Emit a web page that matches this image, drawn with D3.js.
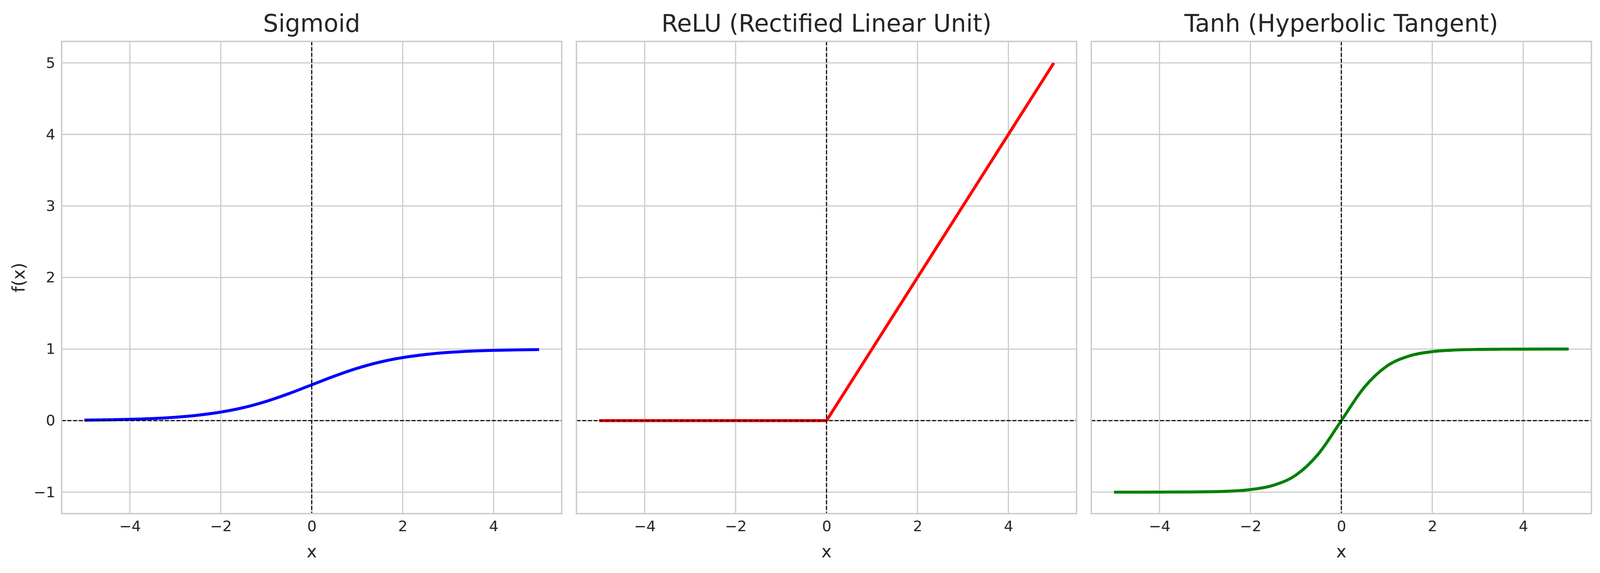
<!DOCTYPE html>
<html>
<head>
<meta charset="utf-8">
<script src="https://cdn.jsdelivr.net/npm/d3@7"></script>
<style>
  html, body { margin: 0; padding: 0; background: #fff; overflow: hidden; }
  svg { display: block; font-family: "DejaVu Sans", sans-serif; }
</style>
</head>
<body>
<script>
// x positions sampled along each curve
var xValues = [-5, -4.5, -4, -3.5, -3, -2.5, -2, -1.5, -1, -0.5, 0,
               0.5, 1, 1.5, 2, 2.5, 3, 3.5, 4, 4.5, 5];

// values
var sigmoidValues = [0.007, 0.011, 0.018, 0.029, 0.047, 0.076, 0.119, 0.182, 0.269, 0.378, 0.5,
                     0.622, 0.731, 0.818, 0.881, 0.924, 0.953, 0.971, 0.982, 0.989, 0.993];
var reluValues = [0, 0, 0, 0, 0, 0, 0, 0, 0, 0, 0,
                  0.5, 1, 1.5, 2, 2.5, 3, 3.5, 4, 4.5, 5];
var tanhValues = [-1.0, -1.0, -0.999, -0.998, -0.995, -0.987, -0.964, -0.905, -0.762, -0.462, 0,
                  0.462, 0.762, 0.905, 0.964, 0.987, 0.995, 0.998, 0.999, 1.0, 1.0];

var titles = ["Sigmoid", "ReLU (Rectified Linear Unit)", "Tanh (Hyperbolic Tangent)"];
var colors = ["#0000ff", "#ff0000", "#008000"];
var xTicks = [-4, -2, 0, 2, 4];
var yTicks = [-1, 0, 1, 2, 3, 4, 5];

// layout is measured on a 4463x1467 canvas, then fitted to the window
var W = 4463, H = 1467;
var vw = window.innerWidth || W, vh = window.innerHeight || H;
var sx = vw / W, sy = vh / H, s = sx;

var plotTop = 106 * sy, plotBottom = 1315 * sy;
var panelW = 1395 * sx;
var panelLefts = [172 * sx, 1608 * sx, 3044 * sx];
var plotH = plotBottom - plotTop;

var svg = d3.select("body").append("svg")
    .attr("width", vw)
    .attr("height", vh);

var x = d3.scaleLinear().domain([-5.5, 5.5]).range([0, panelW]);
var y = d3.scaleLinear().domain([-1.3, 5.3]).range([plotH, 0]);
var fmt = d3.format("d");

var series = [sigmoidValues, reluValues, tanhValues];
var curves = [d3.curveMonotoneX, d3.curveLinear, d3.curveMonotoneX];

series.forEach(function(vals, i) {
    var g = svg.append("g")
        .attr("transform", "translate(" + panelLefts[i] + "," + plotTop + ")");

    // grid
    g.selectAll(".vgrid").data(xTicks).enter().append("line")
        .attr("x1", function(d) { return x(d); })
        .attr("x2", function(d) { return x(d); })
        .attr("y1", 0).attr("y2", plotH)
        .style("stroke", "#cccccc").style("stroke-width", 3.3 * s);
    g.selectAll(".hgrid").data(yTicks).enter().append("line")
        .attr("x1", 0).attr("x2", panelW)
        .attr("y1", function(d) { return y(d); })
        .attr("y2", function(d) { return y(d); })
        .style("stroke", "#cccccc").style("stroke-width", 3.3 * s);

    // x axis labels
    var xa = g.append("g")
        .attr("transform", "translate(0," + plotH + ")")
        .call(d3.axisBottom(x).tickValues(xTicks).tickFormat(fmt).tickSize(0).tickPadding(18 * sy));
    xa.select(".domain").remove();
    xa.selectAll("text")
        .style("font-size", (41 * s) + "px")
        .style("fill", "#262626")
        .style("font-family", "DejaVu Sans");

    if (i === 0) {
        var ya = g.append("g")
            .call(d3.axisLeft(y).tickValues(yTicks).tickFormat(fmt).tickSize(0).tickPadding(18 * sx));
        ya.select(".domain").remove();
        ya.selectAll("text")
            .style("font-size", (41 * s) + "px")
            .style("fill", "#262626")
            .style("font-family", "DejaVu Sans");

        g.append("text")
            .attr("transform", "translate(" + (69 * sx - panelLefts[0]) + "," + (plotH / 2) + ") rotate(-90)")
            .attr("text-anchor", "middle")
            .style("font-size", (48 * s) + "px")
            .style("fill", "#262626")
            .text("f(x)");
    }

    // the curve
    var line = d3.line()
        .x(function(d, j) { return x(xValues[j]); })
        .y(function(d) { return y(d); })
        .curve(curves[i]);
    g.append("path")
        .datum(vals)
        .attr("d", line)
        .style("fill", "none")
        .style("stroke", colors[i])
        .style("stroke-width", 8.3 * s)
        .style("stroke-linejoin", "round")
        .style("stroke-linecap", "butt");

    // zero lines
    g.append("line")
        .attr("x1", 0).attr("x2", panelW)
        .attr("y1", y(0)).attr("y2", y(0))
        .style("stroke", "#000").style("stroke-width", 3 * s)
        .style("stroke-dasharray", (11 * s) + "," + (5 * s));
    g.append("line")
        .attr("x1", x(0)).attr("x2", x(0))
        .attr("y1", 0).attr("y2", plotH)
        .style("stroke", "#000").style("stroke-width", 3 * s)
        .style("stroke-dasharray", (11 * s) + "," + (5 * s));

    // frame
    g.append("rect")
        .attr("x", 0).attr("y", 0)
        .attr("width", panelW).attr("height", plotH)
        .style("fill", "none")
        .style("stroke", "#cccccc")
        .style("stroke-width", 4 * s);

    // title and x label
    g.append("text")
        .attr("x", panelW / 2)
        .attr("y", 81 * sy - plotTop)
        .attr("text-anchor", "middle")
        .style("font-size", (67 * s) + "px")
        .style("fill", "#262626")
        .text(titles[i]);

    g.append("text")
        .attr("x", panelW / 2)
        .attr("y", 1427 * sy - plotTop)
        .attr("text-anchor", "middle")
        .style("font-size", (48 * s) + "px")
        .style("fill", "#262626")
        .text("x");
});
</script>
</body>
</html>
